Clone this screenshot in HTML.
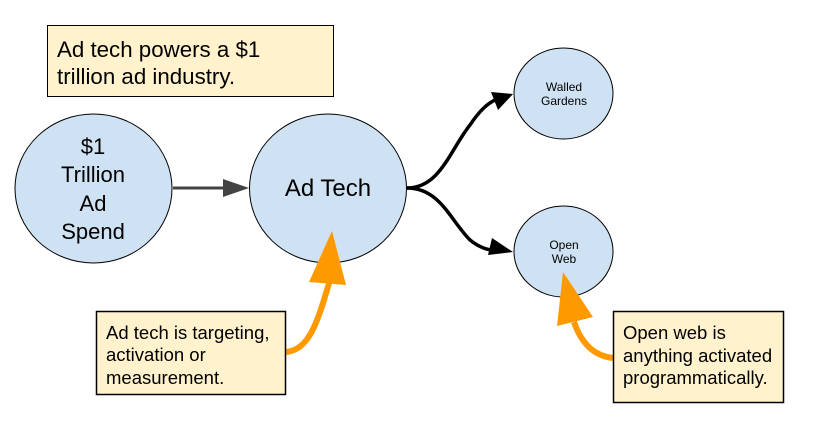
<!DOCTYPE html>
<html><head><style>
html,body{margin:0;padding:0;background:#fff;}
svg{display:block;}
text{font-family:"Liberation Sans",Arial,sans-serif;fill:#000;}
</style></head><body>
<svg width="825" height="438" viewBox="0 0 825 438">
<rect x="47.5" y="25.5" width="286" height="71" fill="#fff2cc" stroke="#000" stroke-width="1"/>
<text x="57" y="57" font-size="22.3">Ad tech powers a $1</text>
<text x="57" y="84" font-size="22.3">trillion ad industry.</text>

<ellipse cx="93.5" cy="188.5" rx="78.5" ry="74.5" fill="#cfe2f3" stroke="#000" stroke-width="1"/>
<g font-size="22" text-anchor="middle">
<text x="93" y="154">$1</text>
<text x="93" y="182">Trillion</text>
<text x="93" y="211">Ad</text>
<text x="93" y="239">Spend</text>
</g>
<line x1="173" y1="188" x2="226" y2="188" stroke="#434343" stroke-width="3"/>
<polygon points="223,179 249,188 223,197" fill="#434343"/>

<ellipse cx="328" cy="188.5" rx="78.5" ry="74.5" fill="#cfe2f3" stroke="#000" stroke-width="1"/>
<text x="328" y="196" font-size="24" text-anchor="middle">Ad Tech</text>

<path d="M407,188 C440,188 450,150 470,125 C480,110 488,103 497,99" fill="none" stroke="#000" stroke-width="3.5"/>
<polygon points="491,92 513,94 498,110" fill="#000"/>
<path d="M407,188 C440,188 450,220 470,240 C480,248 488,250 497,251" fill="none" stroke="#000" stroke-width="3.5"/>
<polygon points="492,238 513,252 488,255" fill="#000"/>

<ellipse cx="563.5" cy="93.5" rx="49.5" ry="45.5" fill="#cfe2f3" stroke="#000" stroke-width="1"/>
<text x="564" y="91" font-size="12" text-anchor="middle">Walled</text>
<text x="564" y="105" font-size="12" text-anchor="middle">Gardens</text>
<ellipse cx="563.5" cy="251.5" rx="49.5" ry="45.5" fill="#cfe2f3" stroke="#000" stroke-width="1"/>
<text x="564" y="249" font-size="12" text-anchor="middle">Open</text>
<text x="564" y="263" font-size="12" text-anchor="middle">Web</text>

<path d="M286,352 C310,350 318,320 330,280" fill="none" stroke="#ff9900" stroke-width="6"/>
<polygon points="332,231 346,285 309,282" fill="#ff9900"/>
<path d="M613,358 C595,356 582,345 574,322" fill="none" stroke="#ff9900" stroke-width="6"/>
<polygon points="563,272 593,317 557,326" fill="#ff9900"/>

<rect x="96.5" y="311.5" width="189" height="83" fill="#fff2cc" stroke="#000" stroke-width="1.5"/>
<g font-size="18.5">
<text x="106" y="339">Ad tech is targeting,</text>
<text x="106" y="361">activation or</text>
<text x="106" y="384">measurement.</text>
</g>
<rect x="613.5" y="311.5" width="170" height="91" fill="#fff2cc" stroke="#000" stroke-width="1.5"/>
<g font-size="18.5">
<text x="623" y="339">Open web is</text>
<text x="623" y="362">anything activated</text>
<text x="623" y="384">programmatically.</text>
</g>
</svg>
</body></html>
